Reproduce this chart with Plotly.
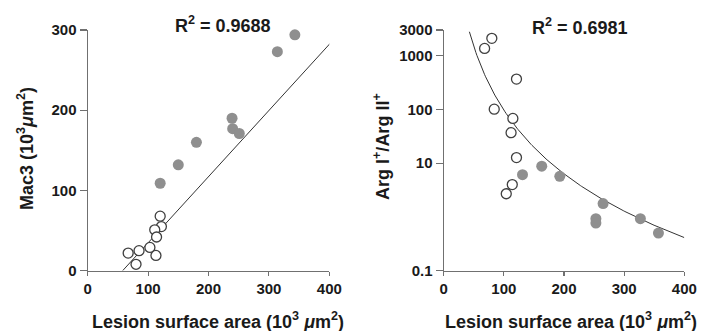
import numpy as np
import plotly.graph_objects as go

# ---- data ----
mac_filled_x = [343, 314, 239, 240, 251, 180, 150, 120]
mac_filled_y = [294, 273, 190, 177, 171, 160, 132, 109]
mac_open_x = [120, 122, 111, 114, 103, 113, 85, 67, 80]
mac_open_y = [68, 55, 51, 42, 29, 19, 25, 22, 8]
mac_fit_slope = 0.8246
mac_fit_intercept = -47.7
mac_fit_xrange = [58, 404]
mac_r2 = "0.9688"

arg_filled_x = [131, 163, 193, 265, 253, 253, 327, 357]
arg_filled_y = [6.1, 8.8, 5.7, 1.77, 0.93, 0.77, 0.93, 0.50]
arg_open_x = [80, 68, 121, 84, 115, 112, 121, 114, 104]
arg_open_y = [2100, 1365, 366, 101, 68, 37, 12.7, 4.0, 2.7]
arg_fit_a = 10 ** (3.446 + 3.94 * 1.630)   # power-law fit y = a * x^b
arg_fit_b = -3.94
arg_fit_xrange = [42.7, 400]
arg_r2 = "0.6981"

x_ticks = [0, 100, 200, 300, 400]
mac_y_ticks = [0, 100, 200, 300]
arg_y_ticks = [0.1, 10, 100, 1000, 3000]
arg_y_ticktext = ["0.1", "10", "100", "1000", "3000"]

W, H = 702, 331
FONT = "Arial, Liberation Sans, Helvetica, sans-serif"
TXT = "#1a1a1a"
AXC = "#707070"
FILL = "#8f8f8f"
OPEN_LINE = "#404040"

fig = go.Figure()

def add_points(xs, ys, filled, xa, ya):
    if filled:
        marker = dict(size=11, color=FILL, line=dict(width=0))
    else:
        marker = dict(size=10, color="white", line=dict(width=1.3, color=OPEN_LINE))
    fig.add_trace(go.Scatter(x=xs, y=ys, mode="markers", marker=marker, hoverinfo="skip",
                             xaxis=xa, yaxis=ya, cliponaxis=False, showlegend=False))

# left fit line
lx = np.linspace(mac_fit_xrange[0], mac_fit_xrange[1], 2)
fig.add_trace(go.Scatter(x=lx, y=mac_fit_slope * lx + mac_fit_intercept, mode="lines",
                         line=dict(color="#333333", width=1), xaxis="x", yaxis="y",
                         hoverinfo="skip", showlegend=False))
add_points(mac_filled_x, mac_filled_y, True, "x", "y")
add_points(mac_open_x, mac_open_y, False, "x", "y")

# right fit curve
rx = np.linspace(arg_fit_xrange[0], arg_fit_xrange[1], 200)
fig.add_trace(go.Scatter(x=rx, y=arg_fit_a * rx ** arg_fit_b, mode="lines",
                         line=dict(color="#333333", width=1), xaxis="x2", yaxis="y2",
                         hoverinfo="skip", showlegend=False))
add_points(arg_filled_x, arg_filled_y, True, "x2", "y2")
add_points(arg_open_x, arg_open_y, False, "x2", "y2")

tickfont = dict(family=FONT, size=15, color=TXT, weight="bold")
common = dict(showline=True, linecolor=AXC, linewidth=1.2, ticks="outside", tickcolor=AXC,
              tickwidth=1.2, showgrid=False, zeroline=False, tickfont=tickfont, fixedrange=True,
              automargin=False)

yb, yt = 1 - 270.7 / H, 1 - 30 / H
fig.update_layout(
    width=W, height=H, margin=dict(l=0, r=0, t=0, b=0, pad=0, autoexpand=False),
    paper_bgcolor="white", plot_bgcolor="white",
    xaxis=dict(domain=[87.7 / W, 329.3 / W], range=[0, 400], tickvals=x_ticks, ticklen=4,
               anchor="y", **common),
    yaxis=dict(domain=[yb, yt], range=[0, 300], tickvals=mac_y_ticks, ticklen=7,
               anchor="x", **common),
    xaxis2=dict(domain=[443.7 / W, 684.3 / W], range=[0, 400], tickvals=x_ticks, ticklen=4,
                anchor="y2", **common),
    yaxis2=dict(domain=[yb, yt], type="log", range=[-1, np.log10(3000)],
                tickvals=arg_y_ticks, ticktext=arg_y_ticktext, ticklen=7,
                anchor="x2", **common),
)

tfont = dict(family=FONT, size=18, color=TXT, weight="bold")
ann = [
    dict(text="Lesion surface area (10<sup>3</sup> <i>μ</i>m<sup>2</sup>)", x=217.5 / W, y=1 - 320 / H,
         textangle=0),
    dict(text="Lesion surface area (10<sup>3</sup> <i>μ</i>m<sup>2</sup>)", x=571 / W, y=1 - 320 / H,
         textangle=0),
    dict(text="Mac3 (10<sup>3</sup><i>μ</i>m<sup>2</sup>)", x=25 / W, y=1 - 149 / H, textangle=-90),
    dict(text="Arg I<sup>+</sup>/Arg II<sup>+</sup>", x=381 / W, y=1 - 146 / H, textangle=-90),
    dict(text="R<sup>2</sup> = " + mac_r2, x=222.5 / W, y=1 - 24 / H, textangle=0),
    dict(text="R<sup>2</sup> = " + arg_r2, x=580 / W, y=1 - 27 / H, textangle=0),
]
for a in ann:
    fig.add_annotation(xref="paper", yref="paper", showarrow=False, xanchor="center",
                       yanchor="middle", font=tfont, **a)

fig.write_html("out.html", config={"displayModeBar": False, "staticPlot": True},
               post_script="document.body.style.margin='0';document.body.style.overflow='hidden';")
